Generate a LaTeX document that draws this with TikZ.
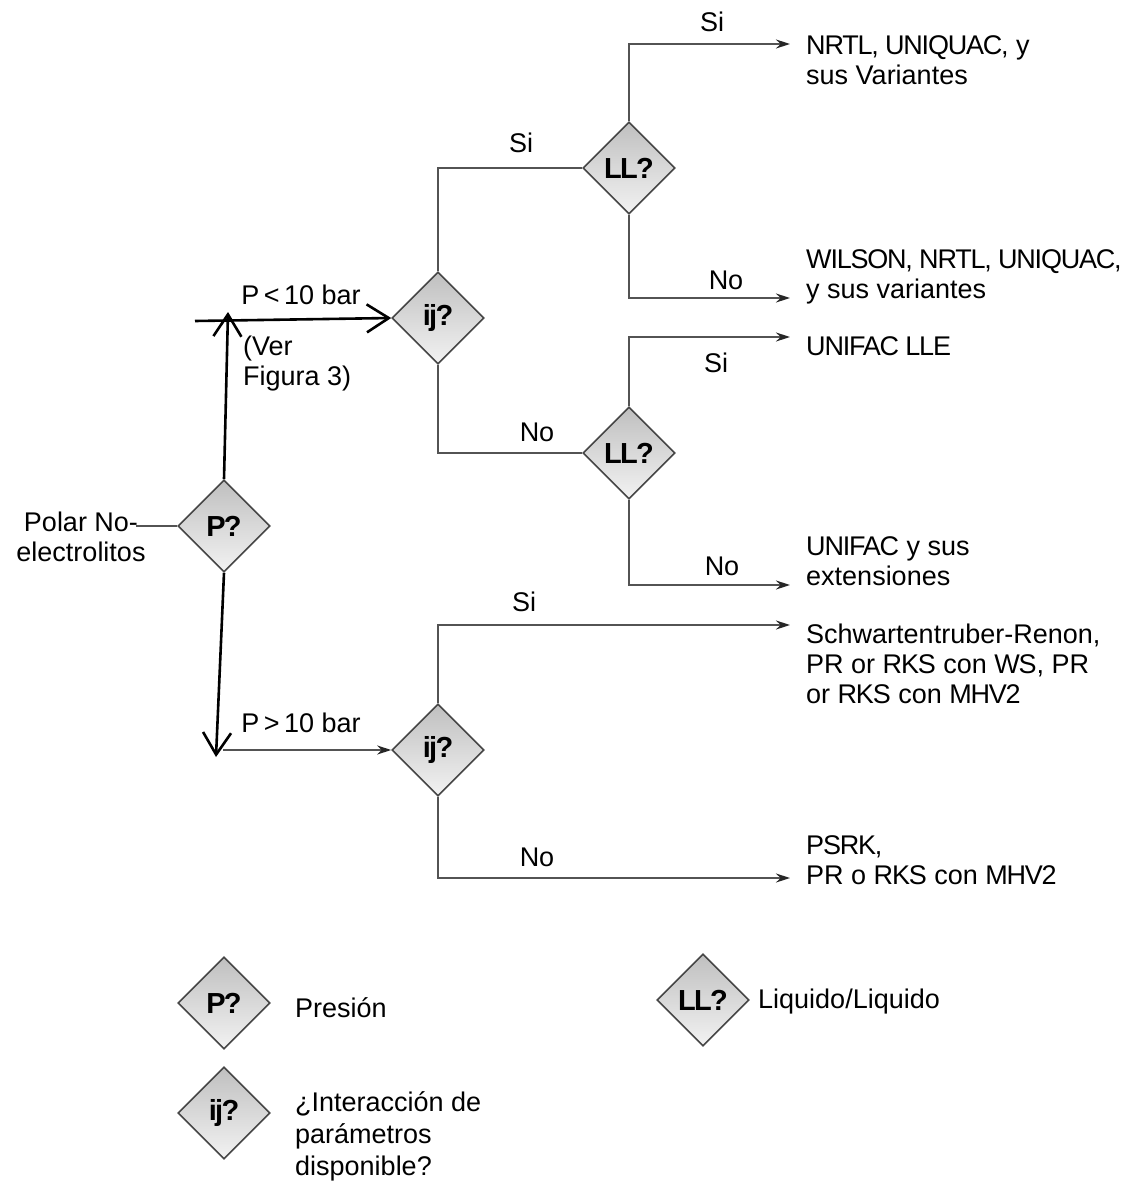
\documentclass[tikz,border=0pt]{standalone}
\usepackage{fontspec}
\setmainfont{Liberation Sans}
\usetikzlibrary{shapes.geometric,arrows.meta}
\newcommand\tightcaps[1]{{\addfontfeature{LetterSpace=-4.5}#1}}
\begin{document}
\begin{tikzpicture}[x=1pt,y=-1pt,
  dec/.style={diamond, draw=gray!55!black, line width=1.6pt, top color=gray!50, bottom color=gray!10,
    minimum width=92pt, minimum height=92pt, inner sep=0pt,
    font=\fontsize{29}{29}\selectfont\bfseries\addfontfeature{LetterSpace=-6}},
  conn/.style={draw=gray!65!black, line width=1.5pt},
  outarr/.style={conn, -{Stealth[length=14pt,width=9pt,color=black!85]}},
  bk/.style={draw=black, line width=2.6pt},
  barb/.style={bk, -{Straight Barb[length=22pt,width=28pt]}},
  lbl/.style={font=\fontsize{27}{30}\selectfont, inner sep=0pt},
  outbox/.style={lbl, anchor=west, align=left, inner xsep=16pt}]
\useasboundingbox[fill=white] (0,0) rectangle (1136,1188);

% decision nodes
\node[dec] (p) at (224,526) {P?};
\node[dec] (ij1) at (438,318) {ij?};
\node[dec] (ll1) at (629,168) {LL?};
\node[dec] (ll2) at (629,453) {LL?};
\node[dec] (ij2) at (438,750) {ij?};

% input
\node[lbl, align=center] (polar) at (81,537) {Polar No-\\electrolitos};
\draw[conn] ([xshift=-10pt]polar.east |- p.west) -- (p.west);

% black hand-drawn arrows
\coordinate (upend) at (228,312);
\coordinate (hstart) at (195,321);
\coordinate (downend) at (216,757);
\coordinate (lstart) at (223,750);
\draw[barb] (p.north) -- (upend);
\draw[barb] (hstart) -- (ij1.west);
\draw[barb] (p.south) -- (downend);
\draw[outarr] (lstart) -- (ij2.west);

\node[lbl] (plt) at (301,295) {P\,<\,10 bar};
\node[lbl, anchor=west, align=left] (ver) at (243,364) {(Ver\\Figura 3)};
\node[lbl] (pgt) at (301,723) {P\,>\,10 bar};

% ij -> LL
\draw[conn] (ij1.north) |- (ll1.west);
\node[lbl] (s1) at (521,143) {Si};
\draw[conn] (ij1.south) |- (ll2.west);
\node[lbl] (n1) at (537,432) {No};

% outputs
\node[outbox] (o1) at (790,60) {\tightcaps{NRTL, UNIQUAC,} y\\sus Variantes};
\node[outbox] (o2) at (790,277) {\tightcaps{WILSON, NRTL, UNIQUAC,}\\y sus variantes};
\node[outbox] (o3) at (790,346) {\tightcaps{UNIFAC LLE}};
\node[outbox] (o4) at (790,561) {\tightcaps{UNIFAC} y sus\\extensiones};
\node[outbox] (o5) at (790,664) {Schwartentruber-Renon,\\PR or \tightcaps{RKS} con \tightcaps{WS}, PR\\or \tightcaps{RKS} con \tightcaps{MHV2}};
\node[outbox] (o6) at (790,860) {\tightcaps{PSRK,}\\PR o \tightcaps{RKS} con \tightcaps{MHV2}};

\coordinate (y1) at (0,44);
\coordinate (y2) at (0,298);
\coordinate (y3) at (0,337);
\coordinate (y4) at (0,585);
\coordinate (y5) at (0,625);
\coordinate (y6) at (0,878);

\draw[outarr] (ll1.north) |- (o1.west |- y1);
\node[lbl] (s2) at (712,22) {Si};
\draw[outarr] (ll1.south) |- (o2.west |- y2);
\node[lbl] (n2) at (726,280) {No};
\draw[outarr] (ll2.north) |- (o3.west |- y3);
\node[lbl] (s3) at (716,363) {Si};
\draw[outarr] (ll2.south) |- (o4.west |- y4);
\node[lbl] (n3) at (722,566) {No};
\draw[outarr] (ij2.north) |- (o5.west |- y5);
\node[lbl] (s4) at (524,602) {Si};
\draw[outarr] (ij2.south) |- (o6.west |- y6);
\node[lbl] (n4) at (537,857) {No};

% legend
\node[dec] (lp) at (224,1003) {P?};
\node[lbl, anchor=west] (lpt) at (295,1008) {Presión};
\node[dec] (lij) at (224,1113) {ij?};
\node[lbl, anchor=west, align=left, font=\fontsize{27}{32}\selectfont] (lijt) at (295,1136) {¿Interacción de\\parámetros\\disponible?};
\node[dec] (lll) at (703,1000) {LL?};
\node[lbl, anchor=west] (lllt) at (758,1002) {Liquido/Liquido};
\end{tikzpicture}
\end{document}
